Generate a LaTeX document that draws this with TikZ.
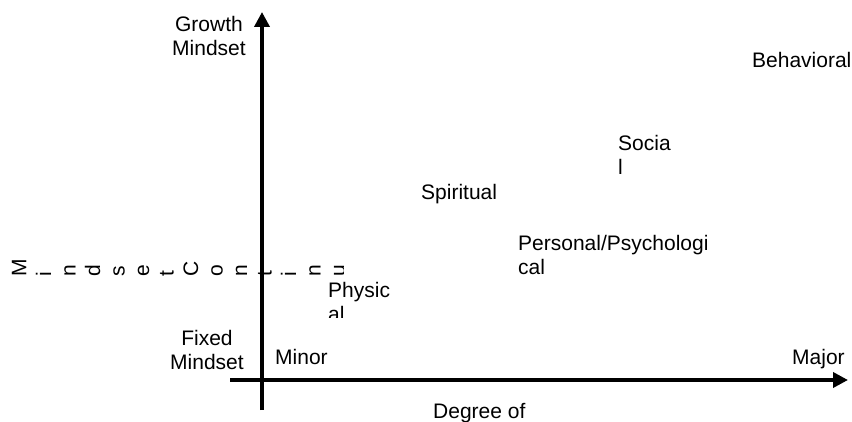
\documentclass[tikz,border=0pt]{standalone}
\usepackage{fontspec}
\setmainfont{Liberation Sans}
\usetikzlibrary{arrows.meta}

\begin{document}
\begin{tikzpicture}[x=1pt, y=-1pt,
  every node/.style={inner sep=0pt, font=\fontsize{21}{24.5}\selectfont},
  lbl/.style={anchor=base west, align=left},
  axis/.style={line width=3.6pt, -{Triangle[width=15pt,length=15pt]}}]
\useasboundingbox (0,0) rectangle (852,422);
\clip (0,0) rectangle (852,422);

% Axis end labels (base of a wrapped node = its last line)
\node (growth) [anchor=base, align=center] at (209,56) {Growth\\Mindset};
\node (fixed) [anchor=base, align=center] at (207,369.5) {Fixed\\Mindset};
\node (minor) [lbl] at (275,364) {Minor};
\node (major) [lbl] at (792,364) {Major};
\node (degree) [lbl] at (433,418) {Degree of};

% Domains
\node (behavioral) [lbl] at (752,68) {Behavioral};
\node (social) [lbl] at (618,175) {Socia\\l};
\node (spiritual) [lbl] at (421,200) {Spiritual};
\node (personal) [lbl] at (518,275) {Personal/Psychologi\\cal};
\begin{scope}
  \clip (300,260) rectangle (420,318);
  \node (physical) [lbl] at (328,322) {Physic\\al};
\end{scope}

% Vertical axis title, one letter per line
\begin{scope}
  \clip (0,230) rectangle (343,300);
  \foreach \ch [count=\k from 0] in {M,i,n,d,s,e,t,C,o,n,t,i,n,u,u,m}
    \node (mc\k) [rotate=90, anchor=base west] at (26.5+24.5*\k,277) {\ch};
\end{scope}

% Axes
\coordinate (ybot) at (262,410);
\coordinate (ytop) at (262,12);
\coordinate (xleft) at (230,380);
\coordinate (xright) at (848,380);
\draw[axis] (ybot) -- (ytop);
\draw[axis] (xleft) -- (xright);
\end{tikzpicture}
\end{document}
